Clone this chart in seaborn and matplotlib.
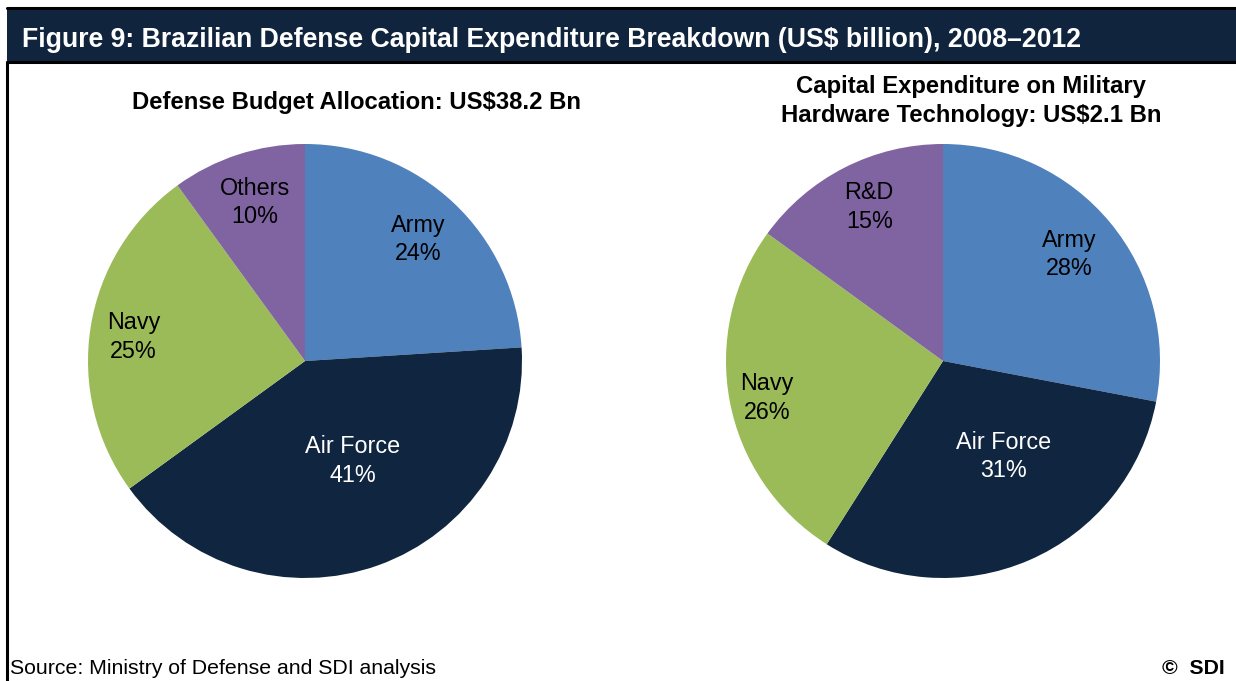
import matplotlib
matplotlib.use("Agg")
import matplotlib.pyplot as plt
import seaborn as sns
from matplotlib.lines import Line2D
from matplotlib.patches import Rectangle

sns.set_theme(style="white")
plt.rcParams["font.family"] = ["Liberation Sans", "DejaVu Sans"]
plt.rcParams["text.color"] = "black"

# Data
budget_labels = ["Army", "Air Force", "Navy", "Others"]
budget_share = [24, 41, 25, 10]
hardware_labels = ["Army", "Air Force", "Navy", "R&D"]
hardware_share = [28, 31, 26, 15]

palette = sns.color_palette(["#4F81BD", "#10253F", "#9BBB59", "#8064A2"])
label_colors = ["black", "white", "black", "black"]

# label placement inside each pie (units of pie radius)
budget_label_pos = [(0.52, 0.56), (0.22, -0.46), (-0.79, 0.11), (-0.23, 0.73)]
hardware_label_pos = [(0.58, 0.49), (0.28, -0.44), (-0.81, -0.17), (-0.34, 0.71)]

W, H = 1236, 681
fig = plt.figure(figsize=(W / 100, H / 100), dpi=100)
fig.patch.set_facecolor("white")

# header band with frame lines
navy = "#10243E"
fig.patches.append(Rectangle((7 / W, 1 - 62 / H), 1 - 7 / W, 54 / H,
                             transform=fig.transFigure, facecolor=navy,
                             edgecolor="none", zorder=0))
fig.lines.append(Line2D([7 / W, 1], [1 - 8 / H, 1 - 8 / H], transform=fig.transFigure,
                        color="black", lw=2.2))
fig.lines.append(Line2D([7 / W, 1], [1 - 62 / H, 1 - 62 / H], transform=fig.transFigure,
                        color="black", lw=2.2))
fig.lines.append(Line2D([7 / W, 7 / W], [0, 1 - 62 / H], transform=fig.transFigure,
                        color="black", lw=2.2))

fig.text(22 / W, 1 - 40 / H,
         "Figure 9: Brazilian Defense Capital Expenditure Breakdown (US$ billion), 2008\u20132012",
         color="white", fontsize=19.2, fontweight="bold", ha="left", va="center")

title_x = {}


def draw_pie(cx, cy, r, shares, labels, positions, title, title_y):
    ax = fig.add_axes([(cx - r) / W, 1 - (cy + r) / H, 2 * r / W, 2 * r / H])
    ax.pie(shares, colors=palette, startangle=90, counterclock=False,
           wedgeprops=dict(linewidth=0))
    ax.set_xlim(-1, 1)
    ax.set_ylim(-1, 1)
    ax.set_aspect("equal")
    ax.axis("off")
    for lab, val, (x, y), col in zip(labels, shares, positions, label_colors):
        ax.text(x, y, f"{lab}\n{val}%", ha="center", va="center", color=col,
                fontsize=16.8, linespacing=1.3)
    fig.text(title_x[title], 1 - title_y / H, title, ha="center", va="center",
             fontsize=17.2, fontweight="bold", linespacing=1.32, color="black")
    return ax


t1 = "Defense Budget Allocation: US$38.2 Bn"
t2 = "Capital Expenditure on Military\nHardware Technology: US$2.1 Bn"
title_x[t1] = 356 / W
title_x[t2] = 971 / W

draw_pie(305, 361, 217, budget_share, budget_labels, budget_label_pos, t1, 103)
draw_pie(943, 361, 217, hardware_share, hardware_labels, hardware_label_pos, t2, 101)

fig.text(10 / W, 1 - 669 / H, "Source: Ministry of Defense and SDI analysis",
         fontsize=15.3, ha="left", va="center", color="black")
fig.text(1225 / W, 1 - 669 / H, "\u00a9  SDI", fontsize=15.3, fontweight="bold",
         ha="right", va="center", color="black")

fig.savefig("out.png", dpi=100)
